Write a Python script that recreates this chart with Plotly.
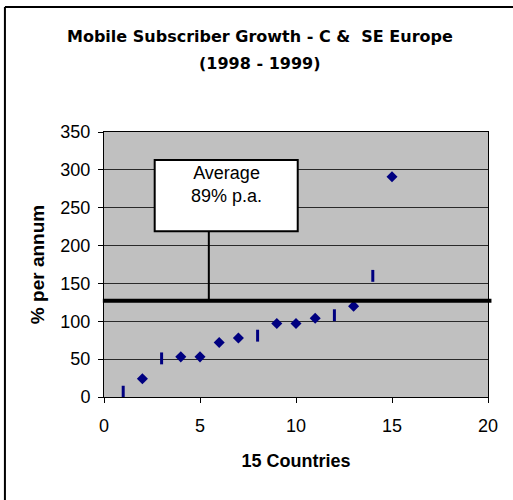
import plotly.graph_objects as go

# Annual mobile subscriber growth (% per annum), 15 Central & South-East European countries
country_rank = list(range(1, 16))
growth_pct = [7, 24, 51, 53, 53, 72, 78, 81, 97, 97, 104, 108, 120, 160, 291]

# marker style per point ("dash" points are drawn as short vertical bars)
point_style = ["dash", "diamond", "dash", "diamond", "diamond", "diamond", "diamond", "dash",
               "diamond", "diamond", "diamond", "dash", "diamond", "dash", "diamond"]

average_level = 127
average_label = "Average<br>89% p.a."

x_ticks = [0, 5, 10, 15, 20]
y_ticks = [0, 50, 100, 150, 200, 250, 300, 350]

NAVY = "#000080"
symbols = ["line-ns" if s == "dash" else "diamond" for s in point_style]
sizes = [8.5 if s == "dash" else 8.5 for s in point_style]
line_widths = [3 if s == "dash" else 0 for s in point_style]

fig = go.Figure()
fig.add_trace(go.Scatter(
    x=country_rank, y=growth_pct, mode="markers",
    marker=dict(symbol=symbols, size=sizes, color=NAVY, opacity=1,
                line=dict(color=NAVY, width=line_widths)),
    cliponaxis=False, showlegend=False, hoverinfo="x+y",
))

axis_font = dict(family="Liberation Sans, Arial, sans-serif", size=18, color="black")

fig.update_layout(
    width=513, height=500,
    margin=dict(l=104, r=25, t=132, b=103),
    paper_bgcolor="white", plot_bgcolor="#C0C0C0",
    font=axis_font,
    xaxis=dict(range=[0, 20], tickvals=x_ticks, showgrid=False, zeroline=False,
               ticks="outside", ticklen=5, tickcolor="black", tickwidth=1,
               showline=True, linecolor="black", linewidth=1, mirror=True,
               tickfont=axis_font, ticklabelstandoff=7,
               title=dict(text="<b>15 Countries</b>", font=axis_font, standoff=19)),
    yaxis=dict(range=[0, 350], tickvals=y_ticks, showgrid=True, gridcolor="#2a2a2a",
               gridwidth=1, zeroline=False,
               ticks="outside", ticklen=5, tickcolor="black", tickwidth=1,
               showline=True, linecolor="black", linewidth=1, mirror=True,
               tickfont=axis_font, ticklabelstandoff=4,
               title=dict(text="<b>% per annum</b>",
                          font=dict(family="Liberation Sans, Arial, sans-serif", size=19,
                                    color="black"), standoff=10)),
)

title_font = dict(family="DejaVu Sans, Verdana, sans-serif", size=16, color="black")
fig.add_annotation(text="<b>Mobile Subscriber Growth - C & \u00a0SE Europe</b>",
                   xref="paper", yref="paper", x=0.406, y=1.362,
                   xanchor="center", yanchor="middle", showarrow=False, font=title_font)
fig.add_annotation(text="<b>(1998 - 1999)</b>",
                   xref="paper", yref="paper", x=0.406, y=1.257,
                   xanchor="center", yanchor="middle", showarrow=False, font=title_font)

# outer chart frame (left and top edges)
fig.add_shape(type="line", xref="paper", yref="paper", x0=-0.258, x1=1.1, y0=1.472, y1=1.472,
              line=dict(color="black", width=2))
fig.add_shape(type="line", xref="paper", yref="paper", x0=-0.258, x1=-0.258, y0=1.472, y1=-0.45,
              line=dict(color="black", width=2))

# average line and its callout
fig.add_shape(type="line", xref="paper", yref="y", x0=-0.003, x1=1.009,
              y0=average_level, y1=average_level, line=dict(color="black", width=4))
fig.add_shape(type="line", xref="x", yref="y", x0=5.46, x1=5.46, y0=average_level, y1=219,
              line=dict(color="black", width=2))
fig.add_shape(type="rect", xref="x", yref="y", x0=2.64, x1=10.09, y0=219, y1=313,
              fillcolor="white", line=dict(color="black", width=2))
fig.add_annotation(text=average_label, xref="x", yref="y", x=6.36, y=281,
                   xanchor="center", yanchor="middle", showarrow=False,
                   font=dict(family="Liberation Sans, Arial, sans-serif", size=18, color="black"))

fig.write_html("out.html")
